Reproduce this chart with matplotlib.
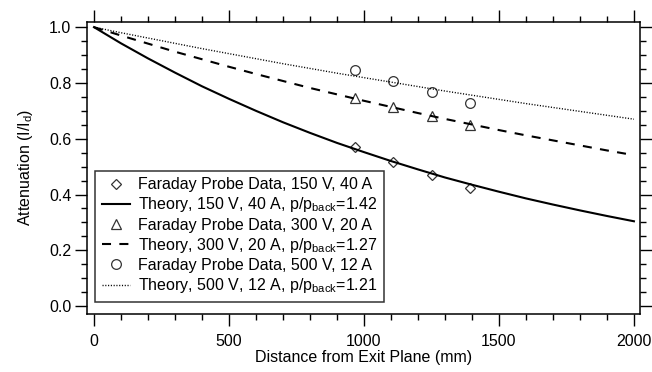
import numpy as np
import matplotlib
matplotlib.use('Agg')
import matplotlib.pyplot as plt
from matplotlib.ticker import MultipleLocator

plt.rcParams['font.family'] = ['Liberation Sans', 'DejaVu Sans']
plt.rcParams['mathtext.fontset'] = 'custom'
plt.rcParams['mathtext.rm'] = 'Liberation Sans'
plt.rcParams['mathtext.it'] = 'Liberation Sans'
plt.rcParams['lines.scale_dashes'] = False

# probe positions (mm) and measured attenuation
probe_x = [965, 1108, 1252, 1393]
data_150 = [0.570, 0.516, 0.470, 0.423]
data_300 = [0.745, 0.713, 0.681, 0.649]
data_500 = [0.845, 0.806, 0.768, 0.728]

# theory curves (every 100 mm)
theory_x = [0, 100, 200, 300, 400, 500, 600, 700, 800, 900, 1000,
            1100, 1200, 1300, 1400, 1500, 1600, 1700, 1800, 1900, 2000]
theory_150 = [1.0, 0.942, 0.888, 0.837, 0.788, 0.743, 0.700, 0.659, 0.621, 0.585, 0.552,
              0.520, 0.490, 0.461, 0.435, 0.410, 0.386, 0.364, 0.343, 0.323, 0.304]
theory_300 = [1.0, 0.970, 0.941, 0.912, 0.885, 0.858, 0.832, 0.807, 0.782, 0.759, 0.736,
              0.714, 0.692, 0.671, 0.651, 0.631, 0.612, 0.594, 0.576, 0.558, 0.541]
theory_500 = [1.0, 0.980, 0.961, 0.942, 0.923, 0.905, 0.887, 0.869, 0.852, 0.835, 0.819,
              0.803, 0.787, 0.771, 0.756, 0.741, 0.726, 0.712, 0.698, 0.684, 0.670]

labels = ['Faraday Probe Data, 150 V, 40 A',
          r'Theory, 150 V, 40 A, p/p$_{\mathrm{back}}$=1.42',
          'Faraday Probe Data, 300 V, 20 A',
          r'Theory, 300 V, 20 A, p/p$_{\mathrm{back}}$=1.27',
          'Faraday Probe Data, 500 V, 12 A',
          r'Theory, 500 V, 12 A, p/p$_{\mathrm{back}}$=1.21']

fig = plt.figure(figsize=(6.52, 3.72), dpi=100)
ax = fig.add_axes([0.1334, 0.157, 0.848, 0.785])

mk = dict(ls='none', mfc='white', mec='#333333', mew=0.9)
ax.plot(probe_x, data_150, marker='D', ms=5.3, label=labels[0], **mk)
ax.plot(theory_x, theory_150, '-', color='black', lw=1.5, label=labels[1])
ax.plot(probe_x, data_300, marker='^', ms=7, label=labels[2], **mk)
ax.plot(theory_x, theory_300, color='black', lw=1.5, dashes=(6.5, 6), label=labels[3])
ax.plot(probe_x, data_500, marker='o', ms=7, label=labels[4], **mk)
ax.plot(theory_x, theory_500, color='black', lw=1.0, dashes=(0.8, 1.2), label=labels[5])

ax.set_xlim(-26, 2022)
ax.set_ylim(-0.027, 1.02)
ax.xaxis.set_major_locator(MultipleLocator(500))
ax.xaxis.set_minor_locator(MultipleLocator(100))
ax.yaxis.set_major_locator(MultipleLocator(0.2))
ax.yaxis.set_minor_locator(MultipleLocator(0.05))
ax.yaxis.set_major_formatter(plt.FormatStrFormatter('%.1f'))
ax.tick_params(which='both', direction='out', top=True, right=True,
               labeltop=False, labelright=False, width=1.0, labelsize=11.5)
ax.tick_params(which='major', length=8.3)
ax.tick_params(which='minor', length=4.5)
ax.tick_params(axis='x', which='major', pad=6.5)
ax.tick_params(axis='y', which='major', pad=3)
for s in ax.spines.values():
    s.set_linewidth(1.1)

ax.set_xlabel('Distance from Exit Plane (mm)', fontsize=11.5, labelpad=0.5)
ax.set_ylabel('Attenuation (I/I$_{\\mathrm{d}}$)', fontsize=11.5, labelpad=10)

leg = ax.legend(loc='lower left', bbox_to_anchor=(0.0154, 0.041), fontsize=11.5,
                frameon=True, fancybox=False, edgecolor='black',
                borderpad=0.4, labelspacing=0.2, handlelength=1.75,
                handletextpad=0.5, borderaxespad=0)
leg.get_frame().set_linewidth(1.1)

fig.savefig('out.png', dpi=100)
